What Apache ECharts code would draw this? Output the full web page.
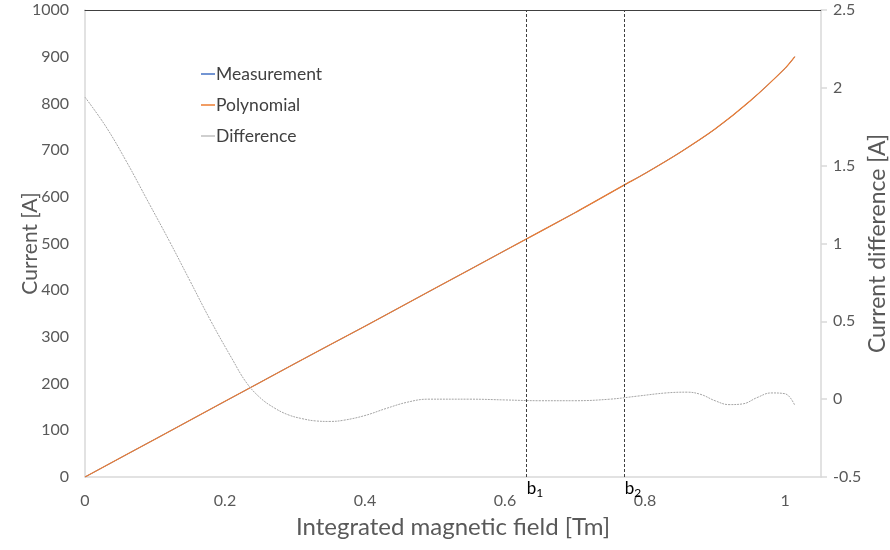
<!DOCTYPE html>
<html>
<head>
<meta charset="utf-8">
<script src="https://cdn.jsdelivr.net/npm/echarts@6/dist/echarts.min.js"></script>
<style>
  html, body { margin: 0; padding: 0; background: #fff; }
  #chart { width: 890px; height: 550px; }
</style>
</head>
<body>
<div id="chart"></div>
<script>
// Integrated field [Tm] and excitation current [A]
const fieldTm      = [0, 0.1, 0.2, 0.3, 0.4, 0.5, 0.6, 0.7, 0.77, 0.8, 0.85, 0.9, 0.95, 1.0, 1.014];
const measurementA = [0, 81, 162, 243, 323, 404, 485, 566, 625, 650, 695, 745, 805, 875, 900];
const polynomialA  = [0, 81, 162, 243, 323, 404, 485, 566, 625, 650, 695, 745, 805, 875, 900];

// Measurement minus polynomial fit [A]
const diffFieldTm = [0, 0.03, 0.06, 0.09, 0.12, 0.15, 0.18, 0.21, 0.23, 0.25, 0.27, 0.29, 0.31, 0.33, 0.35, 0.37, 0.4, 0.43, 0.46, 0.49, 0.55, 0.6, 0.65, 0.7, 0.75, 0.79, 0.83, 0.86, 0.88, 0.9, 0.92, 0.94, 0.96, 0.98, 1.0, 1.014];
const diffA       = [1.94, 1.75, 1.52, 1.27, 1.02, 0.76, 0.50, 0.26, 0.11, 0.01, -0.055, -0.10, -0.125, -0.14, -0.143, -0.135, -0.105, -0.06, -0.02, 0.0, 0.0, -0.005, -0.01, -0.01, 0.0, 0.02, 0.04, 0.045, 0.03, -0.01, -0.035, -0.03, 0.01, 0.04, 0.035, -0.04];

// Boundary fields b1, b2 [Tm]
const boundaryNames = ['1', '2'];
const boundaryTm    = [0.626, 0.77];

const xTicks = [0, 0.2, 0.4, 0.6, 0.8, 1];

const pairs = (xs, ys) => xs.map((x, i) => [x, ys[i]]);
const FONT = 'Lato, "Open Sans", sans-serif';
const TXT = '#595959';
const AXIS = '#d9d9d9';

const chart = echarts.init(document.getElementById('chart'));
chart.setOption({
  animation: false,
  textStyle: { fontFamily: FONT },
  grid: { left: 85, right: 69, top: 10, bottom: 73, containLabel: false, outerBoundsMode: 'none' },
  legend: {
    orient: 'vertical', left: 196, top: 60, itemGap: 13,
    icon: 'rect', itemWidth: 14, itemHeight: 1.5,
    textStyle: { color: '#404040', fontSize: 17.5, fontFamily: FONT, padding: [0, 0, 0, -4] },
    data: ['Measurement', 'Polynomial', 'Difference']
  },
  xAxis: [{
    type: 'value', min: 0, max: 1.0514, interval: 0.2,
    name: 'Integrated magnetic field [Tm]', nameLocation: 'middle', nameGap: 38,
    nameMoveOverlap: false,
    nameTextStyle: { color: TXT, fontSize: 24, fontFamily: FONT },
    axisLine: { onZero: false, lineStyle: { color: AXIS, width: 1.5 } },
    axisTick: { show: false },
    splitLine: { show: false },
    axisLabel: {
      color: TXT, fontSize: 16, margin: 16,
      showMaxLabel: false,
      formatter: v => xTicks.some(t => Math.abs(t - v) < 1e-6) ? String(+v.toFixed(1)) : ''
    }
  }, {
    type: 'value', position: 'top', min: 0, max: 1.0514,
    axisLine: { onZero: false, lineStyle: { color: '#404040', width: 1 } },
    axisTick: { show: false }, axisLabel: { show: false }, splitLine: { show: false }
  }],
  yAxis: [{
    type: 'value', min: 0, max: 1000, interval: 100,
    name: 'Current [A]', nameLocation: 'middle', nameGap: 44,
    nameMoveOverlap: false,
    nameTextStyle: { color: TXT, fontSize: 21, fontFamily: FONT },
    axisLine: { show: true, onZero: false, lineStyle: { color: AXIS, width: 1.5 } },
    axisTick: { show: false },
    splitLine: { show: false },
    axisLabel: { color: TXT, fontSize: 16, margin: 16, formatter: v => String(v) }
  }, {
    type: 'value', min: -0.5, max: 2.5, interval: 0.5, position: 'right',
    name: 'Current difference [A]', nameLocation: 'middle', nameGap: 45, nameRotate: 90,
    nameMoveOverlap: false,
    nameTextStyle: { color: TXT, fontSize: 23, fontFamily: FONT },
    axisLine: { show: true, onZero: false, lineStyle: { color: AXIS, width: 1.5 } },
    axisTick: { show: true, inside: false, length: 6, lineStyle: { color: AXIS, width: 1.5 } },
    splitLine: { show: false },
    axisLabel: { color: TXT, fontSize: 16, margin: 12, formatter: v => String(v) }
  }],
  series: [{
    name: 'Measurement', type: 'line', xAxisIndex: 0, yAxisIndex: 0,
    data: pairs(fieldTm, measurementA), smooth: 0.3, showSymbol: false,
    color: '#4472c4', lineStyle: { width: 1, color: '#4472c4' },
    markLine: {
      silent: true, symbol: 'none',
      lineStyle: { color: '#404040', type: [3, 2], width: 1 },
      label: {
        position: 'start', distance: 2, offset: [9, 0],
        formatter: p => '{b|b}{s|' + p.name + '}',
        rich: {
          b: { color: '#000', fontSize: 17, fontFamily: FONT },
          s: { color: '#000', fontSize: 12, fontFamily: FONT, verticalAlign: 'bottom', padding: [8, 0, 0, 0] }
        }
      },
      data: boundaryTm.map((x, i) => ({ name: boundaryNames[i], xAxis: x }))
    }
  }, {
    name: 'Polynomial', type: 'line', xAxisIndex: 0, yAxisIndex: 0,
    data: pairs(fieldTm, polynomialA), smooth: 0.3, showSymbol: false,
    color: '#ed7d31', lineStyle: { width: 1.2, color: '#ed7d31' }
  }, {
    name: 'Difference', type: 'line', xAxisIndex: 0, yAxisIndex: 1,
    data: pairs(diffFieldTm, diffA), smooth: 0.4, showSymbol: false,
    color: '#bfbfbf', lineStyle: { width: 1, color: '#a5a5a5', type: [2, 1] }
  }]
});
</script>
</body>
</html>
